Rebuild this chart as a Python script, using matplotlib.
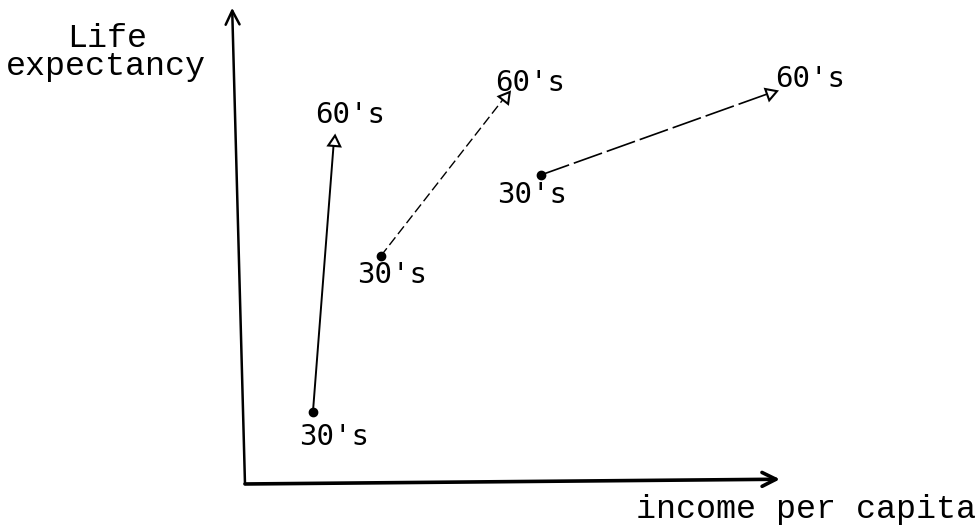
import numpy as np
import matplotlib
matplotlib.use('Agg')
import matplotlib.pyplot as plt

# three countries, each moving from the 30's to the 60's
income_30s = [12.7, 25.4, 55.3]
life_30s = [15.1, 47.9, 64.9]
income_60s = [16.6, 48.6, 98.1]
life_60s = [71.8, 81.3, 82.1]
start_label = "30's"
end_label = "60's"

# layout only (pixel offsets of the decade labels, dash styles)
start_off = [(21, -33), (11, -27), (-9, -28)]
end_off = [(16, 19), (25, 6), (40, 6)]
dashes = ['-', (0, (7, 3)), (0, (18, 3))]
widths = [1.4, 1.0, 1.2]


def main():
	fig = plt.figure(figsize=(9.78, 5.29), dpi=100)
	ax = fig.add_axes([0.2505, 0.0851, 0.547, 0.900])
	ax.set_xlim(0, 100)
	ax.set_ylim(0, 100)
	ax.axis('off')

	# hand drawn axes with arrows
	ax.annotate('', xy=(-2.4, 100), xytext=(0, 0), annotation_clip=False,
		arrowprops=dict(arrowstyle='->,head_length=1.0,head_width=0.5', lw=1.8, color='black',
			shrinkA=0, shrinkB=0))
	ax.annotate('', xy=(100, 1.0), xytext=(0, 0), annotation_clip=False,
		arrowprops=dict(arrowstyle='->,head_length=1.0,head_width=0.5', lw=2.6, color='black',
			shrinkA=0, shrinkB=0))

	fig.canvas.draw()
	for i in range(len(income_30s)):
		x0, y0 = income_30s[i], life_30s[i]
		x1, y1 = income_60s[i], life_60s[i]
		ax.plot([x0, x1], [y0, y1], color='black', lw=widths[i], linestyle=dashes[i], clip_on=False)
		ax.plot(x0, y0, 'o', color='black', ms=6, clip_on=False)
		p0 = ax.transData.transform((x0, y0))
		p1 = ax.transData.transform((x1, y1))
		ang = np.degrees(np.arctan2(p1[1] - p0[1], p1[0] - p0[0]))
		ax.plot(x1, y1, marker=(3, 0, ang - 90), ms=10, mfc='white', mec='black', mew=1.5,
			clip_on=False)
		ax.annotate(start_label, xy=(x0, y0), xytext=start_off[i], textcoords='offset pixels',
			ha='center', va='baseline', fontsize=21, family='DejaVu Sans Mono')
		ax.annotate(end_label, xy=(x1, y1), xytext=end_off[i], textcoords='offset pixels',
			ha='center', va='baseline', fontsize=21, family='DejaVu Sans Mono')

	fig.text(0.110, 0.911, 'Life', ha='center', va='baseline', fontsize=24, family='Liberation Mono')
	fig.text(0.108, 0.858, 'expectancy', ha='center', va='baseline', fontsize=24, family='Liberation Mono')
	fig.text(0.824, 0.021, 'income per capita', ha='center', va='baseline', fontsize=24,
		family='Liberation Mono')

	fig.savefig('out.png', dpi=100, facecolor='white')


if __name__ == '__main__':
	main()
